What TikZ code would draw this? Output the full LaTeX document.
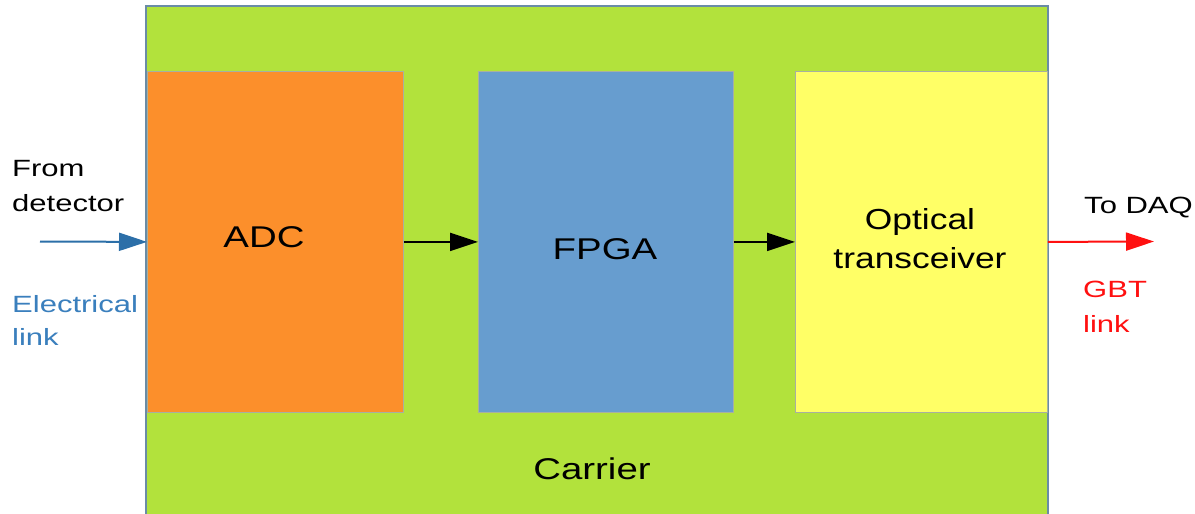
\documentclass[tikz,border=0pt]{standalone}
\usepackage{fontspec}
\setmainfont{Liberation Sans}
\usetikzlibrary{arrows.meta}
\definecolor{carriergreen}{HTML}{B2E23C}
\definecolor{carrierborder}{HTML}{6A8CA6}
\definecolor{adcorange}{HTML}{FC8F2B}
\definecolor{fpgablue}{HTML}{679DCF}
\definecolor{optyellow}{HTML}{FFFF66}
\definecolor{boxedge}{HTML}{A8B0A0}
\definecolor{linkblue}{HTML}{2C6FA8}
\definecolor{linktext}{HTML}{3A7FBD}
\definecolor{gbtred}{HTML}{FF1010}
\newcommand{\sx}[1]{\scalebox{1.28}[1]{#1}}
\newcommand{\sxs}[1]{\scalebox{1.32}[1]{#1}}
\begin{document}
\begin{tikzpicture}[x=1pt,y=-1pt,
  blockbox/.style={draw=boxedge, line width=0.8pt, minimum width=256pt, minimum height=341pt, inner sep=0pt, anchor=north west},
  biglabel/.style={inner sep=0pt, anchor=base, font=\fontsize{30}{38}\selectfont, align=center},
  smalllabel/.style={inner sep=0pt, anchor=base west, font=\fontsize{23.5}{35}\selectfont, align=left},
  flow/.style={line width=2pt, -{Triangle[length=28pt,width=18pt]}}]
\useasboundingbox (0,0) rectangle (1195,514);
\fill[white] (0,0) rectangle (1195,514);
% carrier
\draw[fill=carriergreen, draw=carrierborder, line width=2pt] (146,6) rectangle (1048,530);
\node[inner sep=0pt] (carrier) at (597,260) {};
% blocks
\node[blockbox, fill=adcorange] (adc) at (147,71) {};
\node[blockbox, fill=fpgablue, minimum width=255pt] (fpga) at (478,71) {};
\node[blockbox, fill=optyellow, minimum width=252pt] (optical) at (795,71) {};
% labels in blocks
\node[biglabel] (adclabel) at (264,247) {\sx{ADC}};
\node[biglabel] (fpgalabel) at (605,259) {\sx{FPGA}};
\node[biglabel, font=\fontsize{29}{39}\selectfont] (optlabel) at (920,268) {\scalebox{1.22}[1]{Optical}\\\scalebox{1.22}[1]{transceiver}};
\node[biglabel] (carrierlabel) at (592,479) {\sx{Carrier}};
% side labels
\node[smalllabel] (fromlabel) at (12,211) {\sxs{From}\\\sxs{detector}};
\node[smalllabel, text=linktext, font=\fontsize{23.5}{33}\selectfont] (elabel) at (12,345) {\sxs{Electrical}\\\sxs{link}};
\node[smalllabel] (todaq) at (1084,213) {\sxs{To DAQ}};
\node[smalllabel, text=gbtred] (gbtlabel) at (1083,332) {\sxs{GBT}\\\sxs{link}};
% connectors
\coordinate (in) at (40,241.5);
\coordinate (out) at (1154,241.5);
\draw[flow, draw=linkblue] (in) -- (adc.west);
\draw[flow, black] (adc.east) -- (fpga.west);
\draw[flow, black] (fpga.east) -- (optical.west);
\draw[flow, draw=gbtred] (optical.east) -- (out);
\end{tikzpicture}
\end{document}
